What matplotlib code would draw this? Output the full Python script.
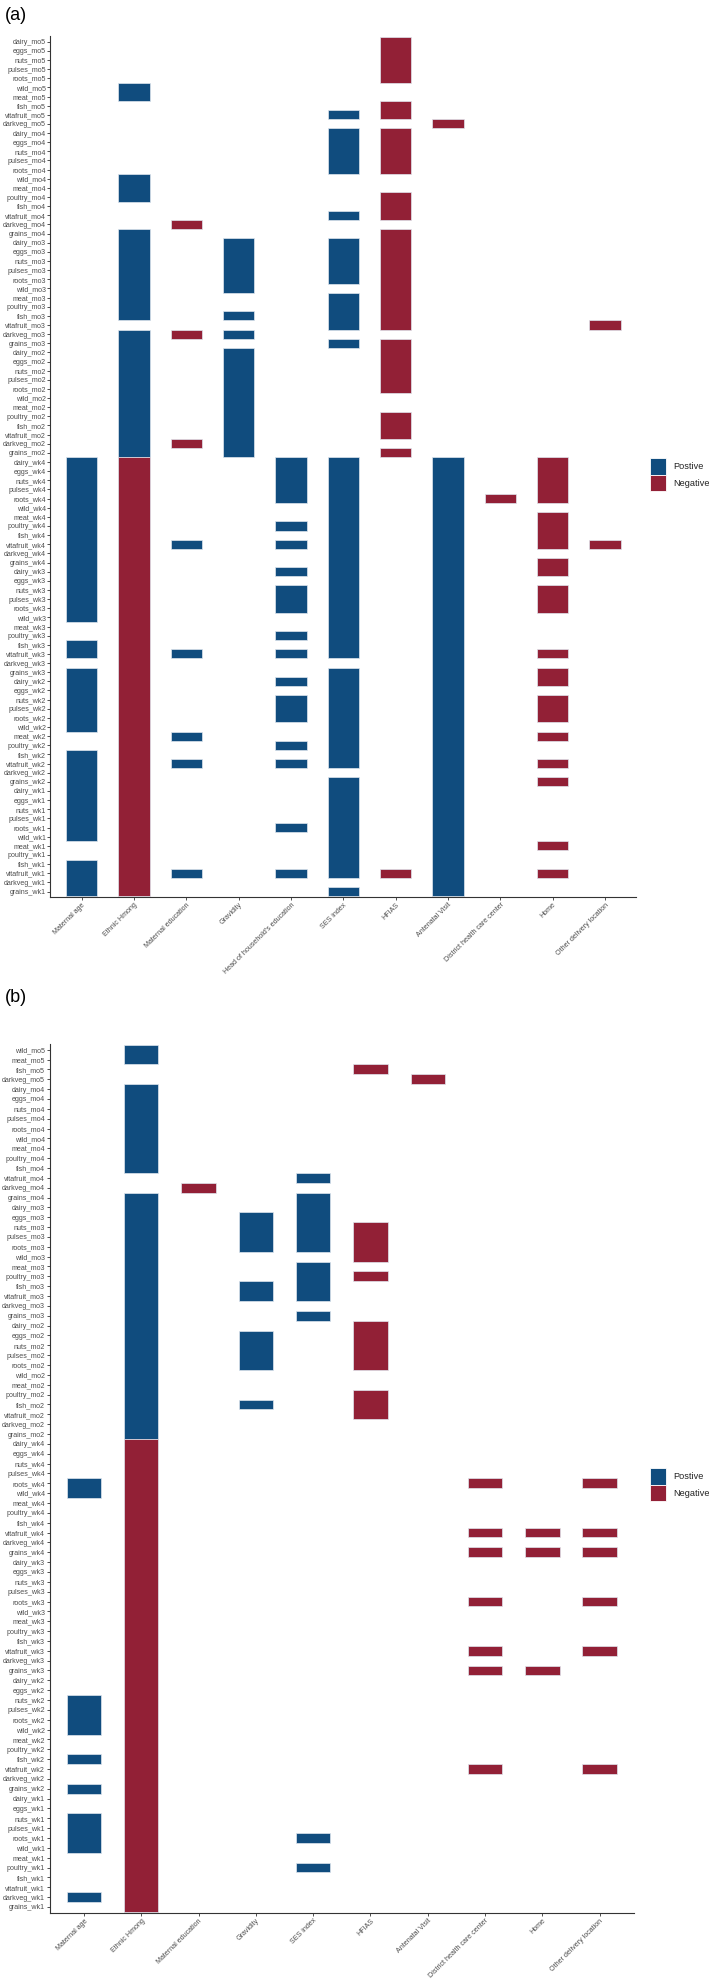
import matplotlib
matplotlib.use("Agg")
import matplotlib.pyplot as plt
from matplotlib.patches import Rectangle

plt.rcParams['font.family'] = ['Liberation Sans', 'DejaVu Sans']

W, H = 709, 1980
POS = '#104c7e'
NEG = '#922036'
GREY = '#4d4d4d'

# ---- panel (a) ----
cols_a = ["Maternal age", "Ethnic Hmong", "Maternal education", "Gravidity",
          "Head of household's education", "SES index", "HFIAS", "Antenatal Visit",
          "District health care center", "Home", "Other delivery location"]

rows_a = ["dairy_mo5", "eggs_mo5", "nuts_mo5", "pulses_mo5", "roots_mo5", "wild_mo5",
          "meat_mo5", "fish_mo5", "vitafruit_mo5", "darkveg_mo5"]
for t in ["mo4", "mo3", "mo2", "wk4", "wk3", "wk2", "wk1"]:
    rows_a += [g + "_" + t for g in ["dairy", "eggs", "nuts", "pulses", "roots", "wild", "meat",
                                     "poultry", "fish", "vitafruit", "darkveg", "grains"]]

# one string per row, one char per column: + positive, - negative, . none
cells_a = [
    "......-....", "......-....", "......-....", "......-....", "......-....",
    ".+.........", ".+.........", "......-....", ".....+-....", ".......-...",
    # mo4
    ".....+-....", ".....+-....", ".....+-....", ".....+-....", ".....+-....", ".+.........",
    ".+.........", ".+....-....", "......-....", ".....+-....", "..-........", ".+....-....",
    # mo3
    ".+.+.+-....", ".+.+.+-....", ".+.+.+-....", ".+.+.+-....", ".+.+.+-....", ".+.+..-....",
    ".+...+-....", ".+...+-....", ".+.+.+-....", ".....+-...-", ".+-+.......", ".+...+-....",
    # mo2
    ".+.+..-....", ".+.+..-....", ".+.+..-....", ".+.+..-....", ".+.+..-....", ".+.+.......",
    ".+.+.......", ".+.+..-....", ".+.+..-....", ".+.+..-....", ".+-+.......", ".+.+..-....",
    # wk4
    "+-..++.+.-.", "+-..++.+.-.", "+-..++.+.-.", "+-..++.+.-.", "+-..++.+--.", "+-...+.+...",
    "+-...+.+.-.", "+-..++.+.-.", "+-...+.+.-.", "+-+.++.+.--", "+-...+.+...", "+-...+.+.-.",
    # wk3
    "+-..++.+.-.", "+-...+.+...", "+-..++.+.-.", "+-..++.+.-.", "+-..++.+.-.", "+-...+.+...",
    ".-...+.+...", ".-..++.+...", "+-...+.+...", "+-+.++.+.-.", ".-.....+...", "+-...+.+.-.",
    # wk2
    "+-..++.+.-.", "+-...+.+...", "+-..++.+.-.", "+-..++.+.-.", "+-..++.+.-.", "+-...+.+...",
    ".-+..+.+.-.", ".-..++.+...", "+-...+.+...", "+-+.++.+.-.", "+-.....+...", "+-...+.+.-.",
    # wk1
    "+-...+.+...", "+-...+.+...", "+-...+.+...", "+-...+.+...", "+-..++.+...", "+-...+.+...",
    ".-...+.+.-.", ".-...+.+...", "+-...+.+...", "+-+.++-+.-.", "+-.....+...", "+-...+.+...",
]

# ---- panel (b) ----
cols_b = ["Maternal age", "Ethnic Hmong", "Maternal education", "Gravidity", "SES index",
          "HFIAS", "Antenatal Visit", "District health care center", "Home",
          "Other delivery location"]

rows_b = ["wild_mo5", "meat_mo5", "fish_mo5", "darkveg_mo5"]
for t in ["mo4", "mo3", "mo2", "wk4", "wk3", "wk2", "wk1"]:
    rows_b += [g + "_" + t for g in ["dairy", "eggs", "nuts", "pulses", "roots", "wild", "meat",
                                     "poultry", "fish", "vitafruit", "darkveg", "grains"]]

cells_b = [
    ".+........", ".+........", ".....-....", "......-...",
    # mo4
    ".+........", ".+........", ".+........", ".+........", ".+........", ".+........",
    ".+........", ".+........", ".+........", "....+.....", "..-.......", ".+..+.....",
    # mo3
    ".+..+.....", ".+.++.....", ".+.++-....", ".+.++-....", ".+.++-....", ".+...-....",
    ".+..+.....", ".+..+-....", ".+.++.....", ".+.++.....", ".+........", ".+..+.....",
    # mo2
    ".+...-....", ".+.+.-....", ".+.+.-....", ".+.+.-....", ".+.+.-....", ".+........",
    ".+........", ".+...-....", ".+.+.-....", ".+...-....", ".+........", ".+........",
    # wk4
    ".-........", ".-........", ".-........", ".-........", "+-.....-.-", "+-........",
    ".-........", ".-........", ".-........", ".-.....---", ".-........", ".-.....---",
    # wk3
    ".-........", ".-........", ".-........", ".-........", ".-.....-.-", ".-........",
    ".-........", ".-........", ".-........", ".-.....-.-", ".-........", ".-.....--.",
    # wk2
    ".-........", ".-........", "+-........", "+-........", "+-........", "+-........",
    ".-........", ".-........", "+-........", ".-.....-.-", ".-........", "+-........",
    # wk1
    ".-........", ".-........", "+-........", "+-........", "+-..+.....", "+-........",
    ".-........", ".-..+.....", ".-........", ".-........", "+-........", ".-........",
]

fig = plt.figure(figsize=(W / 100, H / 100), dpi=100)


def px_axes(left, top, right, bottom):
    return fig.add_axes([left / W, 1 - bottom / H, (right - left) / W, (bottom - top) / H])


def draw_panel(ax, rows, cells, cols):
    n = len(rows)
    # merge vertically adjacent cells of the same sign into one block
    for j in range(len(cols)):
        col = [s[j] for s in cells] + ['.']
        start = None
        for i, ch in enumerate(col):
            if start is not None and ch != col[start]:
                sign = col[start]
                top = n - start + 0.5
                bot = n - i + 0.5
                ax.bar(j + 1, top - bot, bottom=bot, width=0.6,
                       color=POS if sign == '+' else NEG,
                       edgecolor='#dfe6ee', linewidth=0.5)
                start = None
            if start is None and ch != '.':
                start = i
    ax.set_xlim(0.4, len(cols) + 0.6)
    ax.set_ylim(0.4, n + 0.6)
    ax.set_yticks(range(n, 0, -1))
    ax.set_yticklabels(rows, fontsize=5.1, color=GREY)
    ax.set_xticks(range(1, len(cols) + 1))
    ax.set_xticklabels(cols, fontsize=5.1, color=GREY, rotation=45, ha='right',
                       va='top', rotation_mode='anchor')
    for sp in ['top', 'right']:
        ax.spines[sp].set_visible(False)
    for sp in ['left', 'bottom']:
        ax.spines[sp].set_color('#333333')
        ax.spines[sp].set_linewidth(0.8)
    ax.tick_params(axis='both', length=2.0, width=0.6, color='#333333', pad=1.2)


def legend_at(y_top):
    for k, (lab, colr) in enumerate([("Postive", POS), ("Negative", NEG)]):
        y = y_top + k * 16.5
        fig.add_artist(Rectangle((650 / W, 1 - (y + 16.5) / H), 16 / W, 16.5 / H,
                                 transform=fig.transFigure, facecolor=colr,
                                 edgecolor='white', linewidth=0.6))
        fig.text(673 / W, 1 - (y + 8.5) / H, lab, fontsize=6.6, color='#222222',
                 ha='left', va='center')


ax_a = px_axes(50.4, 36.2, 636.4, 897.0)
draw_panel(ax_a, rows_a, cells_a, cols_a)
legend_at(458)

ax_b = px_axes(49.6, 1043.8, 634.0, 1912.9)
draw_panel(ax_b, rows_b, cells_b, cols_b)
legend_at(1468)

fig.text(5 / W, 1 - 15 / H, "(a)", fontsize=13, ha='left', va='center')
fig.text(5 / W, 1 - 998 / H, "(b)", fontsize=13, ha='left', va='center')

fig.savefig("out.png", dpi=100)
